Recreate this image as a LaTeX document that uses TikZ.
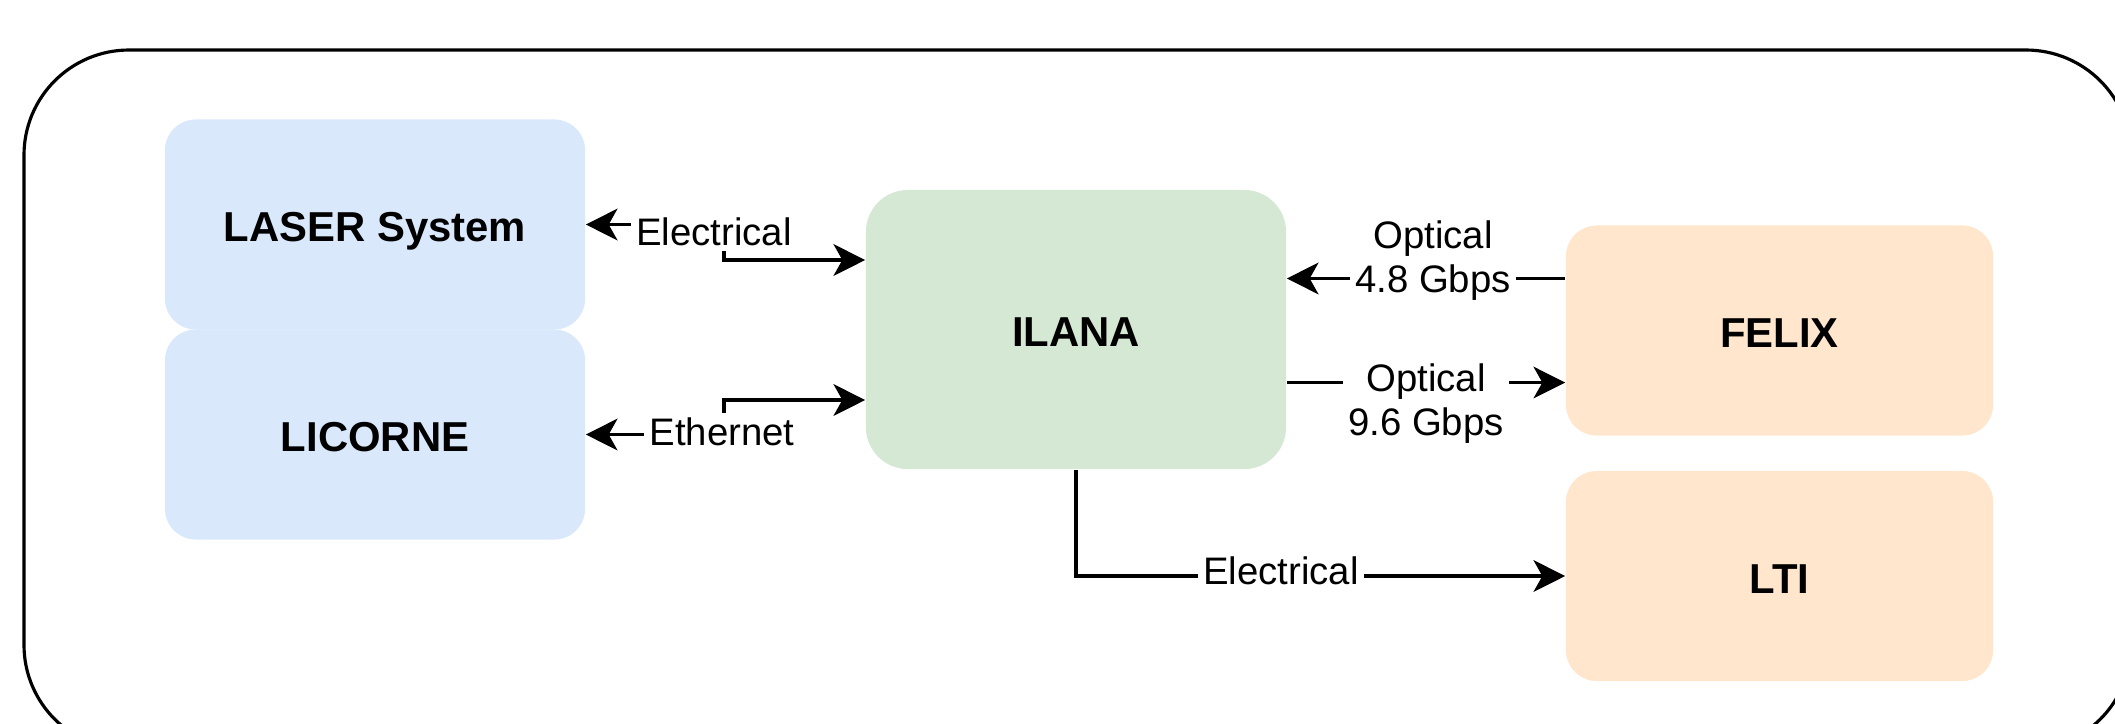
\documentclass[tikz,border=0pt]{standalone}
\usepackage{fontspec}
\setmainfont{Liberation Sans}
\usetikzlibrary{arrows.meta, positioning}
\definecolor{sysblue}{HTML}{DAE8FC}
\definecolor{sysgreen}{HTML}{D5E8D4}
\definecolor{sysorange}{HTML}{FFE6CC}

\begin{document}
\begin{tikzpicture}[x=0.01cm, y=-0.01cm, >={Stealth[length=9pt, width=9pt, inset=2.5pt]}]
\tikzstyle{every node}+=[inner sep=0pt]
\tikzstyle{box}=[rectangle, rounded corners=0.31cm, minimum width=4.2cm, minimum height=2.1cm, text height=9.9pt, text depth=0pt, font=\fontsize{11.9}{14}\selectfont\bfseries]
\tikzstyle{lbl}=[fill=white, inner sep=1.5pt, align=center, font=\fontsize{10.9}{12.5}\selectfont]
\tikzstyle{link}=[line width=0.9pt]
\useasboundingbox (0,0) rectangle (2115,723);
\clip (0,0) rectangle (2115,723);
% frame
\draw [line width=0.9pt, rounded corners=1.05cm] (24,50) rectangle (2131,750);
% blocks
\node [box, fill=sysblue] (laser) at (375,224.5) {LASER System};
\node [box, fill=sysblue] (licorne) at (375,434.5) {LICORNE};
\node [box, fill=sysgreen, rounded corners=0.42cm, minimum height=2.79cm] (ilana) at (1076,329.5) {ILANA};
\node [box, fill=sysorange, minimum width=4.27cm] (felix) at (1779.5,330.5) {FELIX};
\node [box, fill=sysorange, minimum width=4.27cm] (lti) at (1779.5,576) {LTI};
% links
\coordinate (elbowA) at (724,260);
\coordinate (elbowB) at (724,400);
\coordinate (optIn) at ([yshift=0.52cm]felix.west);
\coordinate (optOut) at ([yshift=-0.52cm]felix.west);
\draw [link, <->] (laser.east) -| (elbowA) -- (elbowA -| ilana.west);
\node [lbl] (elecA) at (714,232) {Electrical};
\draw [link, <->] (licorne.east) -| (elbowB) -- (elbowB -| ilana.west);
\node [lbl] (ether) at (722,432) {Ethernet};
\draw [link, ->] (optIn) -- (optIn -| ilana.east);
\node [lbl] (optA) at (1433,261) {Optical\\4.8 Gbps};
\draw [link, ->] (optOut -| ilana.east) -- (optOut);
\node [lbl] (optB) at (1426,404) {Optical\\9.6 Gbps};
\draw [link, ->] (ilana.south) |- (lti.west);
\node [lbl] (elecB) at (1281,571) {Electrical};
\end{tikzpicture}
\end{document}
